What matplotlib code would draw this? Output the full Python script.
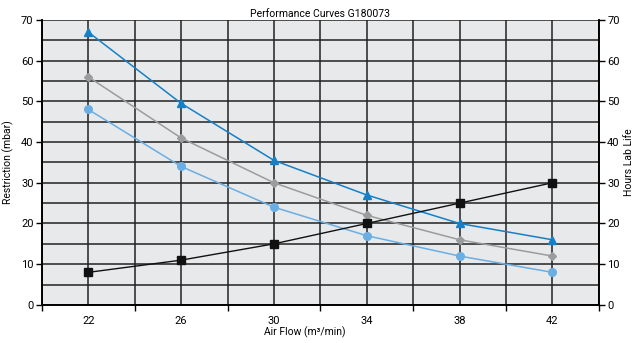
import matplotlib.pyplot as plt
from matplotlib.ticker import MultipleLocator, FixedLocator

air_flow = [22, 26, 30, 34, 38, 42]
restriction_a = [67, 49.5, 35.5, 27, 20, 16]
restriction_b = [56, 41, 30, 22, 16, 12]
restriction_c = [48, 34, 24, 17, 12, 8]
lab_life = [8, 11, 15, 20, 25, 30]

plt.rcParams['font.family'] = ['Liberation Sans Narrow', 'Roboto', 'DejaVu Sans']

fig = plt.figure(figsize=(6.35, 3.43), dpi=100)
ax = fig.add_axes([0.066, 0.111, 0.877, 0.831])
ax.set_facecolor('#e8e9eb')

ax.set_xlim(20, 44)
ax.set_ylim(0, 70)

# grid
for gx in range(20, 45, 2):
    ax.axvline(gx, color='#222222', lw=1.1, zorder=1)
for gy in range(0, 71, 5):
    ax.axhline(gy, color='#222222', lw=1.1, zorder=1)

ax.plot(air_flow, restriction_a, color='#1580c8', lw=1.1, marker='^', ms=6, zorder=3)
ax.plot(air_flow, restriction_b, color='#9c9c9c', lw=1.1, marker='D', ms=4, zorder=3)
ax.plot(air_flow, restriction_c, color='#6aaee3', lw=1.1, marker='o', ms=5.5, zorder=3)

ax2 = ax.twinx()
ax2.set_ylim(0, 70)
ax2.plot(air_flow, lab_life, color='#111111', lw=1.0, marker='s', ms=5.5, zorder=3)

ax.xaxis.set_major_locator(FixedLocator(list(range(20, 45, 4))))
ax.xaxis.set_minor_locator(FixedLocator(air_flow))
ax.set_xticklabels([])
ax.set_xticklabels([str(v) for v in air_flow], minor=True)
ax.tick_params(axis='x', which='major', length=4, width=1, direction='out')
ax.tick_params(axis='x', which='minor', length=0, labelsize=8, pad=8)

ax.yaxis.set_major_locator(MultipleLocator(10))
ax.tick_params(axis='y', length=4, width=1, labelsize=8, pad=2)
ax2.yaxis.set_major_locator(MultipleLocator(10))
ax2.tick_params(axis='y', length=4, width=1, labelsize=8, pad=2)

for a in (ax, ax2):
    a.spines['top'].set_visible(False)
    for s in ('left', 'right', 'bottom'):
        a.spines[s].set_linewidth(1.2)

ax.set_ylabel('Restriction (mbar)', fontsize=7.5, labelpad=5)
ax2.set_ylabel('Hours Lab Life', fontsize=7.5, labelpad=3)
ax.set_title('Performance Curves G180073', fontsize=7.5, pad=2)
fig.text(0.48, 0.022, 'Air Flow (m³/min)', fontsize=7.5, ha='center')

fig.savefig('out.png', dpi=100)
